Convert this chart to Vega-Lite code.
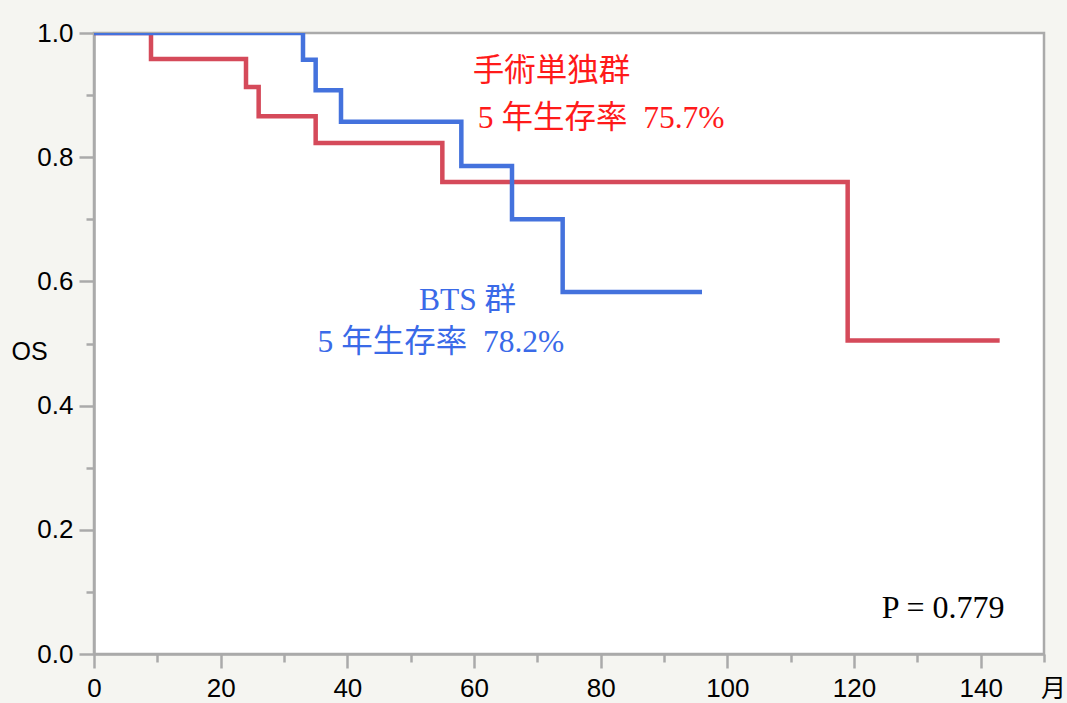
{
  "$schema": "https://vega.github.io/schema/vega-lite/v6.json",
  "width": 950,
  "height": 621,
  "autosize": "none",
  "padding": {"left": 94, "top": 33, "right": 23, "bottom": 49},
  "background": "#f5f5f1",
  "config": {
    "view": {"fill": "#ffffff", "stroke": "#aaaaaa", "strokeWidth": 2.5},
    "axis": {"grid": false}
  },
  "datasets": {
    "curves": [
      {"group": "手術単独群", "month": 0, "os": 1.0},
      {"group": "手術単独群", "month": 9, "os": 0.958},
      {"group": "手術単独群", "month": 24, "os": 0.913},
      {"group": "手術単独群", "month": 26, "os": 0.866},
      {"group": "手術単独群", "month": 35, "os": 0.823},
      {"group": "手術単独群", "month": 55, "os": 0.76},
      {"group": "手術単独群", "month": 119, "os": 0.505},
      {"group": "手術単独群", "month": 143, "os": 0.505},
      {"group": "BTS群", "month": 0, "os": 1.0},
      {"group": "BTS群", "month": 33, "os": 0.957},
      {"group": "BTS群", "month": 35, "os": 0.908},
      {"group": "BTS群", "month": 39, "os": 0.857},
      {"group": "BTS群", "month": 58, "os": 0.786},
      {"group": "BTS群", "month": 66, "os": 0.7},
      {"group": "BTS群", "month": 74, "os": 0.583},
      {"group": "BTS群", "month": 96, "os": 0.583}
    ],
    "redText": [
      {"label": "手術単独群", "month": 59.8, "os": 0.938},
      {"label": "5 年生存率\u00a0\u00a075.7%", "month": 60.6, "os": 0.862}
    ],
    "blueText": [
      {"label": "BTS 群", "month": 51.3, "os": 0.568},
      {"label": "5 年生存率\u00a0\u00a078.2%", "month": 35.3, "os": 0.501}
    ],
    "pText": [
      {"label": "P = 0.779", "month": 124.4, "os": 0.074}
    ]
  },
  "encoding": {
    "x": {
      "field": "month",
      "type": "quantitative",
      "scale": {"domain": [0, 150], "nice": false, "zero": false},
      "axis": {
        "title": "月",
        "titleFont": "Noto Sans CJK JP",
        "titleFontSize": 25,
        "titleFontWeight": "normal",
        "titleColor": "#000000",
        "titleX": 959,
        "titleY": 34,
        "titleAlign": "center",
        "titleBaseline": "middle",
        "values": [0, 10, 20, 30, 40, 50, 60, 70, 80, 90, 100, 110, 120, 130, 140, 150],
        "labelExpr": "datum.value % 20 === 0 && datum.value < 150 ? datum.label : ''",
        "labelFont": "Liberation Sans",
        "labelFontSize": 26,
        "labelColor": "#000000",
        "labelPadding": 7,
        "labelFlush": false,
        "labelOverlap": false,
        "domainColor": "#aaaaaa",
        "domainWidth": 2.5,
        "tickColor": "#aaaaaa",
        "tickWidth": 2.5,
        "tickSize": {"condition": {"test": "datum.value % 20 === 0", "value": 14}, "value": 8}
      }
    },
    "y": {
      "field": "os",
      "type": "quantitative",
      "scale": {"domain": [0, 1], "nice": false},
      "axis": {
        "title": "OS",
        "titleFont": "Liberation Sans",
        "titleFontSize": 25,
        "titleFontWeight": "normal",
        "titleColor": "#000000",
        "titleAngle": 0,
        "titleX": -83,
        "titleY": 318,
        "titleAlign": "left",
        "titleBaseline": "middle",
        "values": [0, 0.1, 0.2, 0.3, 0.4, 0.5, 0.6, 0.7, 0.8, 0.9, 1.0],
        "format": ".1f",
        "labelExpr": "round(datum.value * 10) % 2 === 0 ? datum.label : ''",
        "labelFont": "Liberation Sans",
        "labelFontSize": 26,
        "labelColor": "#000000",
        "labelPadding": 6,
        "labelFlush": false,
        "labelOverlap": false,
        "domainColor": "#aaaaaa",
        "domainWidth": 2.5,
        "tickColor": "#aaaaaa",
        "tickWidth": 2.5,
        "tickSize": {"condition": {"test": "round(datum.value * 10) % 2 === 0", "value": 15}, "value": 8}
      }
    }
  },
  "layer": [
    {
      "data": {"name": "curves"},
      "transform": [{"filter": "datum.group === '手術単独群'"}],
      "mark": {"type": "line", "interpolate": "step-after", "color": "#d54a5a", "strokeWidth": 4.5, "clip": true}
    },
    {
      "data": {"name": "curves"},
      "transform": [{"filter": "datum.group === 'BTS群'"}],
      "mark": {"type": "line", "interpolate": "step-after", "color": "#4472dd", "strokeWidth": 4.5, "clip": true}
    },
    {
      "data": {"name": "redText"},
      "mark": {"type": "text", "align": "left", "baseline": "middle", "font": "Liberation Serif, Noto Sans CJK JP", "fontSize": 31.5, "color": "#ff1a1a"},
      "encoding": {"text": {"field": "label"}}
    },
    {
      "data": {"name": "blueText"},
      "mark": {"type": "text", "align": "left", "baseline": "middle", "font": "Liberation Serif, Noto Sans CJK JP", "fontSize": 31.5, "color": "#3a6ae8"},
      "encoding": {"text": {"field": "label"}}
    },
    {
      "data": {"name": "pText"},
      "mark": {"type": "text", "align": "left", "baseline": "middle", "font": "Liberation Serif", "fontSize": 32, "color": "#000000"},
      "encoding": {"text": {"field": "label"}}
    }
  ]
}
